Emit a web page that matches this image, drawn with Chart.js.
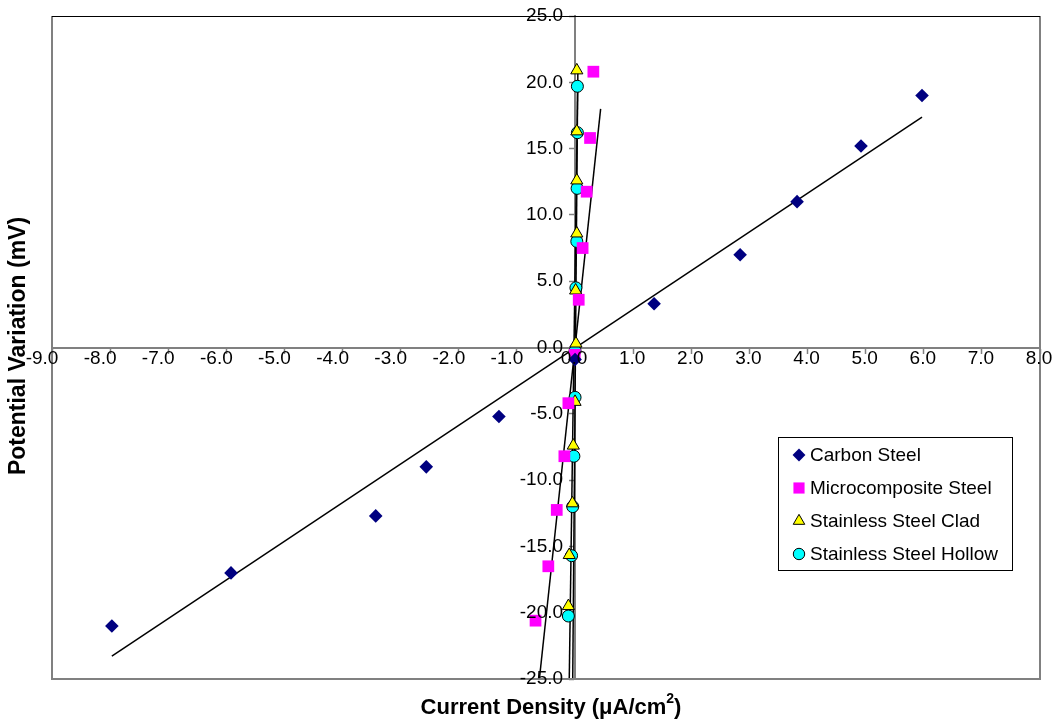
<!DOCTYPE html>
<html>
<head>
<meta charset="utf-8">
<script src="https://cdn.jsdelivr.net/npm/chart.js@4/dist/chart.umd.min.js"></script>
<style>
  html, body { margin: 0; padding: 0; background: #fff; }
  #wrap { position: relative; width: 1056px; height: 724px; }
</style>
</head>
<body>
<div id="wrap"><canvas id="c" width="1056" height="724"></canvas></div>
<script>
// ---- data ----
const seriesNames = ['Carbon Steel', 'Microcomposite Steel', 'Stainless Steel Clad', 'Stainless Steel Hollow'];

const carbonX = [-7.97, -5.92, -3.43, -2.56, -1.31, 0.0, 1.36, 2.84, 3.82, 4.92, 5.97];
const carbonY = [-21.0, -17.0, -12.7, -9.0, -5.2, -0.9, 3.3, 7.0, 11.0, 15.2, 19.0];

const microX = [-0.68, -0.46, -0.315, -0.184, -0.115, -0.005, 0.063, 0.13, 0.20, 0.258, 0.315];
const microY = [-20.6, -16.5, -12.25, -8.2, -4.2, -0.55, 3.6, 7.5, 11.75, 15.8, 20.8];

const cladX = [-0.115, -0.10, -0.045, -0.03, 0.0, 0.015, 0.01, 0.03, 0.03, 0.03, 0.03];
const cladY = [-19.5, -15.65, -11.75, -7.4, -4.1, 0.3, 4.3, 8.6, 12.6, 16.3, 20.9];

const hollowX = [-0.115, -0.06, -0.04, -0.02, 0.0, 0.0, 0.015, 0.03, 0.035, 0.04, 0.04];
const hollowY = [-20.25, -15.7, -12.0, -8.2, -3.76, -0.25, 4.5, 8.0, 12.0, 16.2, 19.7];

// trendline end points
const carbonTrendX = [-7.97, 5.97];
const carbonTrendY = [-23.27, 17.38];
const microTrendX = [-0.614, 0.44];
const microTrendY = [-25.0, 18.0];
const cladTrendX = [-0.10, 0.05];
const cladTrendY = [-25.0, 21.2];
const hollowTrendX = [-0.04, 0.045];
const hollowTrendY = [-25.0, 19.8];

const xTickMin = -9, xTickMax = 8, xTickStep = 1;
const yTickMin = -25, yTickMax = 25, yTickStep = 5;

const xTitle = 'Current Density (\u03BCA/cm';
const xTitleSup = '2';
const xTitleEnd = ')';
const yTitle = 'Potential Variation (mV)';

// ---- build ----
function pts(xs, ys) { return xs.map((x, i) => ({ x: x, y: ys[i] })); }

const FONT = "'Liberation Sans', Arial, sans-serif";
const TICK_FONT = '19px ' + FONT;

const markerStyles = [
  { pointStyle: 'rectRot', radius: 6.8, bg: '#000080', border: '#000080', bw: 0 },
  { pointStyle: 'rect', radius: 8.3, bg: '#FF00FF', border: '#FF00FF', bw: 0 },
  { pointStyle: 'triangle', radius: 7, bg: '#FFFF00', border: '#000000', bw: 1 },
  { pointStyle: 'circle', radius: 6, bg: '#00FFFF', border: '#000000', bw: 1 }
];

const markerData = [pts(carbonX, carbonY), pts(microX, microY), pts(cladX, cladY), pts(hollowX, hollowY)];
const trendData = [pts(carbonTrendX, carbonTrendY), pts(microTrendX, microTrendY), pts(cladTrendX, cladTrendY), pts(hollowTrendX, hollowTrendY)];

const datasets = [];
markerData.forEach((d, i) => {
  const m = markerStyles[i];
  datasets.push({
    label: seriesNames[i], data: d, showLine: false,
    pointStyle: m.pointStyle, pointRadius: m.radius, pointHoverRadius: m.radius,
    pointBackgroundColor: m.bg, pointBorderColor: m.border, pointBorderWidth: m.bw,
    backgroundColor: m.bg, borderColor: m.border
  });
});
trendData.forEach((d, i) => {
  datasets.push({
    label: seriesNames[i] + ' trend', data: d, showLine: true, pointRadius: 0, pointHoverRadius: 0,
    borderColor: '#000000', borderWidth: 1.5, fill: false, tension: 0
  });
});

const fmt = v => Number(v).toFixed(1);

const frame = {
  id: 'frame',
  afterDatasetsDraw(chart) {
    const { ctx, chartArea: a } = chart;
    ctx.save();
    ctx.strokeStyle = '#808080';
    ctx.lineWidth = 2;
    ctx.beginPath();
    ctx.moveTo(a.left, a.top); ctx.lineTo(a.left, a.bottom); ctx.lineTo(a.right, a.bottom); ctx.lineTo(a.right, a.top);
    ctx.stroke();
    ctx.strokeStyle = '#000000';
    ctx.lineWidth = 1.2;
    ctx.beginPath();
    ctx.moveTo(a.left, a.top + 0.5); ctx.lineTo(a.right, a.top + 0.5);
    ctx.stroke();
    ctx.restore();
  },
  afterDraw(chart) {
    const ctx = chart.ctx;
    const xs = chart.scales.x, ys = chart.scales.y;
    const x0 = xs.getPixelForValue(0), y0 = ys.getPixelForValue(0);
    ctx.save();
    // tick labels
    ctx.fillStyle = '#000000';
    ctx.font = TICK_FONT;
    ctx.textBaseline = 'middle';
    ctx.textAlign = 'right';
    ys.ticks.forEach(t => {
      ctx.fillText(fmt(t.value), x0 - 12, ys.getPixelForValue(t.value));
    });
    ctx.textAlign = 'center';
    xs.ticks.forEach(t => {
      const shift = t.value < 0 ? -10 : -1;
      ctx.fillText(fmt(t.value), xs.getPixelForValue(t.value) + shift, y0 + 11);
    });
    // legend
    const lx = 778, ly = 437, lw = 234, lh = 133;
    ctx.fillStyle = '#ffffff';
    ctx.fillRect(lx, ly, lw, lh);
    ctx.strokeStyle = '#000000';
    ctx.lineWidth = 1;
    ctx.strokeRect(lx + 0.5, ly + 0.5, lw, lh);
    ctx.font = '19px ' + FONT;
    ctx.textBaseline = 'middle';
    ctx.textAlign = 'left';
    seriesNames.forEach((name, i) => {
      const cy = 455 + i * 33;
      const m = markerStyles[i];
      ctx.fillStyle = m.bg; ctx.strokeStyle = m.border; ctx.lineWidth = m.bw;
      Chart.helpers.drawPoint(ctx, { pointStyle: m.pointStyle, radius: m.radius * 0.95, borderWidth: m.bw, rotation: 0 }, 799, cy);
      ctx.fillStyle = '#000000';
      ctx.fillText(name, 810, cy + 1);
    });
    // axis titles
    ctx.fillStyle = '#000000';
    ctx.textBaseline = 'middle';
    ctx.font = 'bold 22px ' + FONT;
    const w1 = ctx.measureText(xTitle).width;
    ctx.font = 'bold 14px ' + FONT;
    const w2 = ctx.measureText(xTitleSup).width;
    ctx.font = 'bold 22px ' + FONT;
    const w3 = ctx.measureText(xTitleEnd).width;
    let sx = 551 - (w1 + w2 + w3) / 2;
    const ty = 708;
    ctx.textAlign = 'left';
    ctx.fillText(xTitle, sx, ty);
    ctx.font = 'bold 14px ' + FONT;
    ctx.fillText(xTitleSup, sx + w1, ty - 9);
    ctx.font = 'bold 22px ' + FONT;
    ctx.fillText(xTitleEnd, sx + w1 + w2, ty);
    ctx.font = 'bold 23px ' + FONT;
    ctx.translate(19, 346);
    ctx.rotate(-Math.PI / 2);
    ctx.textAlign = 'center';
    ctx.fillText(yTitle, 0, 0);
    ctx.restore();
  }
};

new Chart(document.getElementById('c'), {
  type: 'scatter',
  data: { datasets: datasets },
  options: {
    responsive: false,
    animation: false,
    events: [],
    layout: { padding: { left: 52, right: 16, top: 16, bottom: 45 } },
    plugins: { legend: { display: false }, tooltip: { enabled: false } },
    scales: {
      x: {
        type: 'linear', position: { y: 0 }, min: xTickMin, max: xTickMax,
        ticks: { stepSize: xTickStep, autoSkip: false, display: false },
        grid: { drawOnChartArea: false, drawTicks: true, tickLength: 5, color: '#808080', tickWidth: 1.5 },
        border: { display: true, color: '#808080', width: 2 }
      },
      y: {
        type: 'linear', position: { x: 0 }, min: yTickMin, max: yTickMax,
        ticks: { stepSize: yTickStep, autoSkip: false, display: false },
        grid: { drawOnChartArea: false, drawTicks: true, tickLength: 5, color: '#808080', tickWidth: 1.5 },
        border: { display: true, color: '#808080', width: 2 }
      }
    }
  },
  plugins: [frame]
});
</script>
</body>
</html>
